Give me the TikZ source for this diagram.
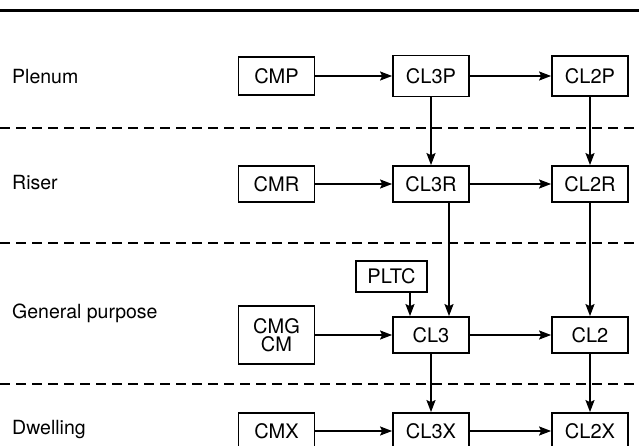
\documentclass[tikz,border=0pt]{standalone}
\usepackage{fontspec}
\setmainfont{TeX Gyre Heros}
\usetikzlibrary{arrows.meta}

\tikzset{
    box/.style={draw, line width=1.8pt, minimum width=76pt, minimum height=36pt,
        inner sep=0pt, align=center, font=\fontsize{20}{18}\selectfont},
    rowlabel/.style={anchor=west, inner sep=0pt, font=\fontsize{19.5}{22}\selectfont},
    arr/.style={-{Stealth[length=12pt,width=9pt,inset=2pt]}, line width=1.6pt},
    sep/.style={line width=1.5pt, dash pattern=on 10pt off 6pt}
}

\begin{document}
\begin{tikzpicture}[x=1pt, y=-1pt]
    % Page frame
    \clip (0,0) rectangle (639,446);

    % Rules between the rows
    \draw[line width=3pt] (0,11) -- (639,11);
    \foreach \y in {128, 243, 384} {
        \draw[sep] (0,\y) -- (639,\y);
    }

    % Row labels
    \node[rowlabel] (plenum) at (12,77) {Plenum};
    \node[rowlabel] (riser) at (12,183) {Riser};
    \node[rowlabel] (general) at (12,313) {General purpose};
    \node[rowlabel] (dwelling) at (12,430) {Dwelling};

    % Plenum row
    \node[box, minimum height=38pt] (cmp) at (276.5,76) {CMP};
    \node[box, minimum height=41pt] (clthreep) at (431,76) {CL3P};
    \node[box, minimum height=40pt] (cltwop) at (590,76) {CL2P};

    % Riser row
    \node[box] (cmr) at (276.5,184) {CMR};
    \node[box] (clthreer) at (431,184) {CL3R};
    \node[box] (cltwor) at (590,184) {CL2R};

    % General purpose row
    \node[box, minimum width=71pt, minimum height=31pt] (pltc) at (391.5,276.5) {PLTC};
    \node[box, minimum height=58pt] (cmg) at (276.5,335) {CMG\\CM};
    \node[box] (clthree) at (431,335) {CL3};
    \node[box] (cltwo) at (590,335) {CL2};

    % Dwelling row
    \node[box] (cmx) at (276.5,431) {CMX};
    \node[box] (clthreex) at (431,431) {CL3X};
    \node[box] (cltwox) at (590,431) {CL2X};

    % Horizontal arrows
    \draw[arr] (cmp) -- (clthreep);
    \draw[arr] (clthreep) -- (cltwop);
    \draw[arr] (cmr) -- (clthreer);
    \draw[arr] (clthreer) -- (cltwor);
    \draw[arr] (cmg) -- (clthree);
    \draw[arr] (clthree) -- (cltwo);
    \draw[arr] (cmx) -- (clthreex);
    \draw[arr] (clthreex) -- (cltwox);

    % Vertical arrows
    \draw[arr] (clthreep) -- (clthreer);
    \draw[arr] (cltwop) -- (cltwor);
    \draw[arr] ([xshift=18pt]clthreer.south) -- ([xshift=18pt]clthree.north);
    \draw[arr] ([xshift=18.5pt]pltc.south) -- ([xshift=-21pt]clthree.north);
    \draw[arr] (cltwor) -- (cltwo);
    \draw[arr] (clthree) -- (clthreex);
    \draw[arr] (cltwo) -- (cltwox);
\end{tikzpicture}
\end{document}
